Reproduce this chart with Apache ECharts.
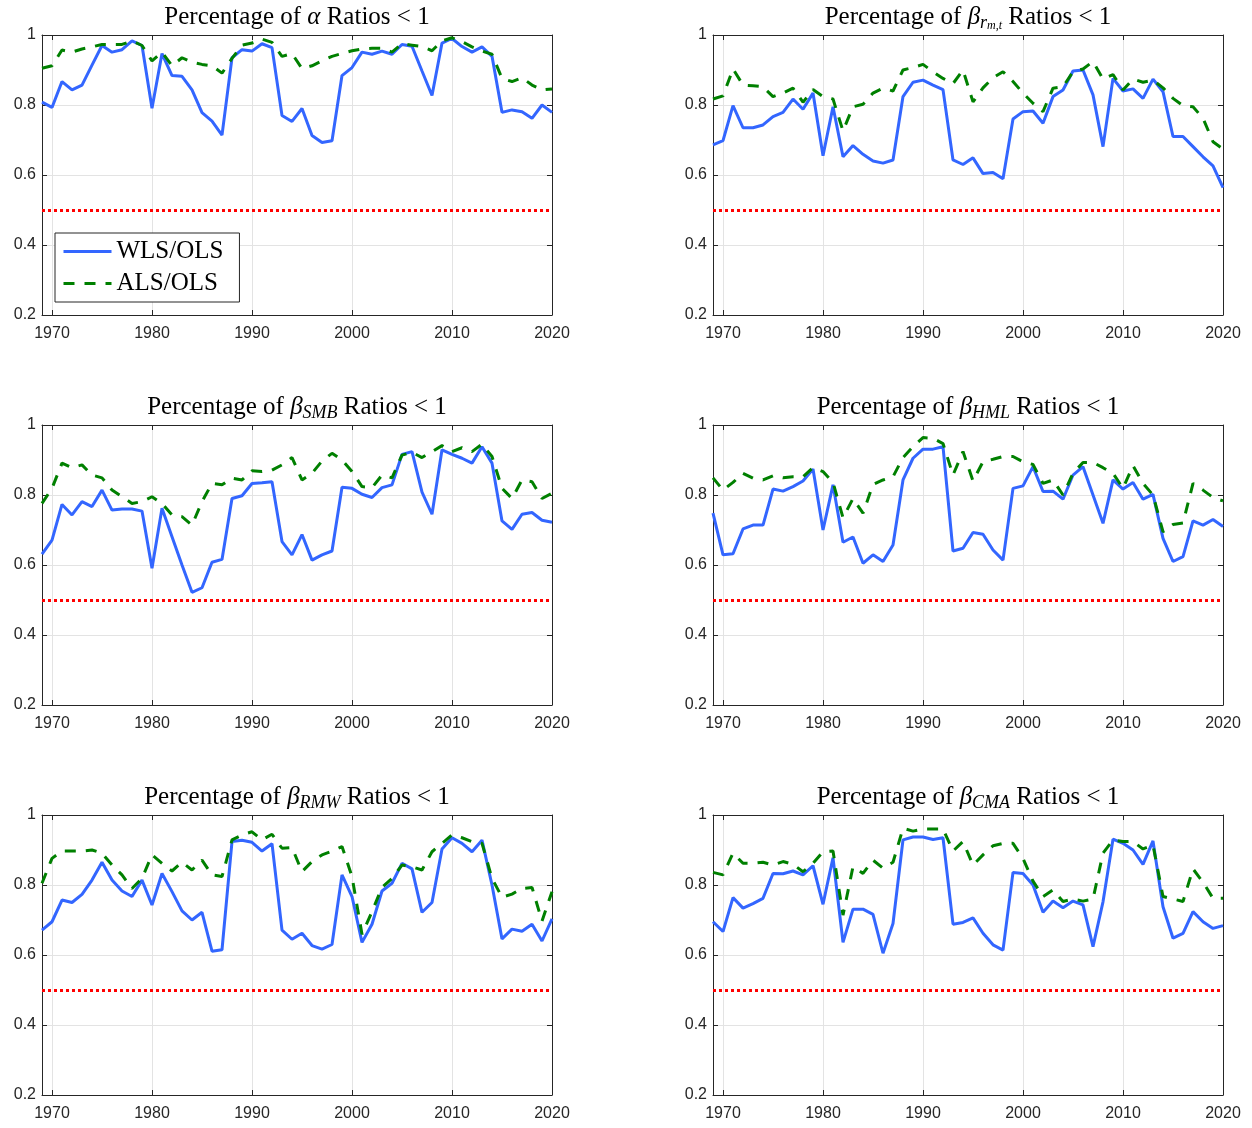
<!DOCTYPE html>
<html><head><meta charset="utf-8">
<script src="https://cdn.jsdelivr.net/npm/echarts@6/dist/echarts.min.js"></script>
<style>html,body{margin:0;padding:0;background:#fff}#c{width:1252px;height:1128px}</style>
</head><body><div id="c"></div>
<script>
const YEARS = [1969,1970,1971,1972,1973,1974,1975,1976,1977,1978,1979,
  1980,1981,1982,1983,1984,1985,1986,1987,1988,1989,
  1990,1991,1992,1993,1994,1995,1996,1997,1998,1999,
  2000,2001,2002,2003,2004,2005,2006,2007,2008,2009,
  2010,2011,2012,2013,2014,2015,2016,2017,2018,2019,2020];
const X_TICKS = [1970,1980,1990,2000,2010,2020];
const THRESHOLD = 0.5;
const LEGEND_NAMES = ['WLS/OLS','ALS/OLS'];

const WLS_ALPHA = [0.808,0.793,0.867,0.843,0.857,0.914,0.970,0.951,0.958,0.983,0.970,
  0.791,0.947,0.884,0.882,0.843,0.778,0.754,0.714,0.935,0.958,
  0.954,0.975,0.964,0.770,0.753,0.790,0.713,0.693,0.698,0.884,
  0.907,0.951,0.945,0.954,0.945,0.973,0.968,0.897,0.827,0.977,
  0.990,0.967,0.951,0.966,0.939,0.779,0.786,0.781,0.762,0.800,0.779];
const ALS_ALPHA = [0.905,0.912,0.957,0.951,0.960,0.966,0.973,0.973,0.973,0.983,0.970,
  0.926,0.951,0.912,0.935,0.922,0.916,0.912,0.891,0.933,0.971,
  0.977,0.988,0.979,0.939,0.947,0.904,0.912,0.926,0.939,0.947,
  0.955,0.960,0.962,0.962,0.951,0.975,0.971,0.967,0.955,0.983,
  0.992,0.981,0.966,0.954,0.945,0.876,0.867,0.878,0.857,0.843,0.846];

const WLS_RM = [0.686,0.698,0.798,0.735,0.735,0.743,0.767,0.779,0.817,0.788,0.834,
  0.655,0.795,0.652,0.684,0.659,0.640,0.634,0.643,0.824,0.865,
  0.871,0.857,0.844,0.643,0.630,0.649,0.604,0.607,0.589,0.760,
  0.781,0.783,0.748,0.824,0.843,0.897,0.900,0.829,0.681,0.876,
  0.840,0.846,0.819,0.874,0.838,0.710,0.710,0.681,0.652,0.626,0.564];
const ALS_RM = [0.817,0.826,0.903,0.857,0.855,0.852,0.824,0.834,0.848,0.808,0.844,
  0.824,0.817,0.726,0.795,0.802,0.834,0.848,0.840,0.900,0.907,
  0.916,0.895,0.876,0.861,0.900,0.809,0.849,0.878,0.895,0.867,
  0.834,0.805,0.781,0.848,0.852,0.895,0.903,0.924,0.874,0.887,
  0.843,0.874,0.865,0.871,0.849,0.819,0.798,0.795,0.762,0.695,0.674];

const WLS_SMB = [0.631,0.671,0.773,0.743,0.781,0.767,0.814,0.757,0.760,0.760,0.754,
  0.591,0.762,0.681,0.600,0.522,0.535,0.608,0.616,0.790,0.798,
  0.833,0.835,0.838,0.667,0.629,0.687,0.614,0.629,0.640,0.822,
  0.819,0.802,0.793,0.821,0.829,0.916,0.924,0.808,0.745,0.929,
  0.916,0.905,0.891,0.938,0.891,0.726,0.702,0.745,0.750,0.728,0.722];
const ALS_SMB = [0.776,0.819,0.891,0.878,0.886,0.857,0.849,0.814,0.795,0.776,0.781,
  0.795,0.776,0.743,0.738,0.714,0.781,0.833,0.829,0.848,0.843,
  0.869,0.867,0.871,0.886,0.907,0.843,0.862,0.897,0.919,0.900,
  0.867,0.824,0.821,0.857,0.849,0.914,0.922,0.907,0.924,0.941,
  0.924,0.935,0.924,0.945,0.910,0.819,0.790,0.843,0.838,0.790,0.805];

const WLS_HML = [0.748,0.629,0.632,0.703,0.714,0.714,0.817,0.811,0.824,0.840,0.874,
  0.700,0.829,0.665,0.680,0.605,0.629,0.610,0.657,0.843,0.905,
  0.931,0.931,0.938,0.640,0.648,0.693,0.688,0.643,0.614,0.819,
  0.826,0.881,0.810,0.811,0.788,0.857,0.881,0.800,0.719,0.843,
  0.817,0.836,0.788,0.802,0.676,0.610,0.624,0.726,0.714,0.730,0.710];
const ALS_HML = [0.849,0.814,0.836,0.862,0.848,0.843,0.855,0.849,0.852,0.852,0.878,
  0.867,0.836,0.735,0.790,0.748,0.830,0.843,0.852,0.907,0.938,
  0.964,0.962,0.947,0.857,0.924,0.840,0.895,0.902,0.910,0.910,
  0.895,0.887,0.833,0.843,0.800,0.862,0.893,0.893,0.878,0.862,
  0.819,0.884,0.833,0.800,0.695,0.716,0.720,0.833,0.814,0.793,0.783];

const WLS_RMW = [0.671,0.695,0.757,0.750,0.773,0.814,0.865,0.814,0.783,0.767,0.814,
  0.743,0.833,0.781,0.726,0.700,0.722,0.611,0.615,0.924,0.928,
  0.922,0.897,0.918,0.671,0.645,0.662,0.627,0.617,0.630,0.829,
  0.767,0.636,0.688,0.783,0.805,0.862,0.846,0.722,0.750,0.903,
  0.935,0.919,0.895,0.928,0.800,0.646,0.674,0.668,0.688,0.640,0.703];
const ALS_RMW = [0.805,0.876,0.897,0.897,0.897,0.900,0.891,0.857,0.829,0.790,0.819,
  0.886,0.862,0.840,0.865,0.843,0.871,0.829,0.824,0.929,0.943,
  0.952,0.929,0.945,0.905,0.907,0.838,0.867,0.886,0.897,0.910,
  0.824,0.659,0.724,0.793,0.819,0.857,0.852,0.843,0.895,0.919,
  0.943,0.935,0.924,0.919,0.819,0.765,0.774,0.790,0.793,0.697,0.781];

const WLS_CMA = [0.695,0.667,0.764,0.734,0.747,0.762,0.833,0.832,0.840,0.829,0.855,
  0.745,0.878,0.636,0.731,0.731,0.716,0.605,0.690,0.929,0.937,
  0.937,0.930,0.935,0.688,0.693,0.706,0.662,0.629,0.614,0.836,
  0.833,0.800,0.722,0.754,0.735,0.754,0.743,0.624,0.752,0.931,
  0.919,0.900,0.859,0.926,0.738,0.648,0.662,0.724,0.695,0.676,0.684];
const ALS_CMA = [0.836,0.829,0.891,0.862,0.862,0.865,0.857,0.867,0.859,0.838,0.862,
  0.895,0.897,0.714,0.852,0.833,0.871,0.848,0.865,0.962,0.954,
  0.960,0.960,0.960,0.897,0.924,0.857,0.886,0.912,0.919,0.919,
  0.876,0.811,0.767,0.786,0.753,0.760,0.754,0.760,0.891,0.929,
  0.924,0.924,0.903,0.914,0.767,0.760,0.753,0.846,0.808,0.762,0.762];

// title pieces: [symbol, subscript, sub-subscript]
const TITLE_PARTS = [
  ['α', '', ''],
  ['β', 'r', 'm,t'],
  ['β', 'SMB', ''],
  ['β', 'HML', ''],
  ['β', 'RMW', ''],
  ['β', 'CMA', '']
];
const PANELS = [
  [WLS_ALPHA, ALS_ALPHA],
  [WLS_RM, ALS_RM],
  [WLS_SMB, ALS_SMB],
  [WLS_HML, ALS_HML],
  [WLS_RMW, ALS_RMW],
  [WLS_CMA, ALS_CMA]
];

const AX = '#262626';
const GRIDC = '#e3e3e3';
const BLUE = '#3366ff';
const GREEN = '#008000';
const RED = '#ff0000';
const SERIF = '"Liberation Serif", "DejaVu Serif", serif';
const SANS = '"Liberation Sans", Arial, sans-serif';

const lefts = [42, 713];
const tops = [35, 425, 815];
const W = 510, H = 280;

const grid = [], xAxis = [], yAxis = [], series = [], graphic = [];
const fmtY = v => String(Math.round(v * 10) / 10);
const fmtX = v => String(Math.round(v));

PANELS.forEach((p, i) => {
  const col = i % 2, row = Math.floor(i / 2);
  grid.push({left: lefts[col], top: tops[row], width: W, height: H, containLabel: false});
  const baseX = {
    type: 'value', gridIndex: i, min: YEARS[0], max: YEARS[YEARS.length - 1],
    axisLine: {show: true, onZero: false, lineStyle: {color: AX, width: 1}},
    axisTick: {show: true, inside: true, length: 5, customValues: X_TICKS, lineStyle: {color: AX}},
  };
  xAxis.push(Object.assign({}, baseX, {
    position: 'bottom',
    axisLabel: {show: true, customValues: X_TICKS, color: AX, fontSize: 16, fontFamily: SANS, margin: 11, formatter: fmtX},
    splitLine: {show: true, lineStyle: {color: GRIDC, width: 1}}
  }));
  xAxis.push(Object.assign({}, baseX, {
    position: 'top', axisLabel: {show: false}, splitLine: {show: false}
  }));
  const baseY = {
    type: 'value', gridIndex: i, min: 0.2, max: 1, interval: 0.2,
    axisLine: {show: true, onZero: false, lineStyle: {color: AX, width: 1}},
    axisTick: {show: true, inside: true, length: 5, lineStyle: {color: AX}}
  };
  yAxis.push(Object.assign({}, baseY, {
    position: 'left',
    axisLabel: {show: true, color: AX, fontSize: 16, fontFamily: SANS, margin: 6, formatter: fmtY},
    splitLine: {show: true, lineStyle: {color: GRIDC, width: 1}}
  }));
  yAxis.push(Object.assign({}, baseY, {
    position: 'right', axisLabel: {show: false}, splitLine: {show: false}
  }));
  series.push({
    name: LEGEND_NAMES[0], type: 'line', xAxisIndex: 2 * i, yAxisIndex: 2 * i,
    data: YEARS.map((y, k) => [y, p[0][k]]), symbol: 'none', silent: true, animation: false,
    lineStyle: {color: BLUE, width: 3}, itemStyle: {color: BLUE}
  });
  series.push({
    name: LEGEND_NAMES[1], type: 'line', xAxisIndex: 2 * i, yAxisIndex: 2 * i,
    data: YEARS.map((y, k) => [y, p[1][k]]), symbol: 'none', silent: true, animation: false,
    lineStyle: {color: GREEN, width: 3, type: [11, 10]}, itemStyle: {color: GREEN},
    markLine: {
      silent: true, symbol: ['none', 'none'], animation: false,
      label: {show: false},
      lineStyle: {color: RED, width: 3, type: 'dotted'},
      emphasis: {disabled: true},
      data: [{yAxis: THRESHOLD}]
    }
  });
  const t = TITLE_PARTS[i];
  let txt = '{n|Percentage of }{g|' + t[0] + '}';
  if (t[1]) txt += '{s|' + t[1] + '}';
  if (t[2]) txt += '{ss|' + t[2] + '}';
  txt += '{n| Ratios < 1}';
  graphic.push({
    type: 'text', x: lefts[col] + W / 2, y: tops[row] - 18, silent: true,
    style: {
      text: txt, align: 'center', verticalAlign: 'middle',
      textAlign: 'center', textVerticalAlign: 'middle',
      rich: {
        n: {fontFamily: SERIF, fontSize: 25, lineHeight: 30, fill: '#000', color: '#000'},
        g: {fontFamily: SERIF, fontSize: 25, fontStyle: 'italic', lineHeight: 30, fill: '#000', color: '#000'},
        s: {fontFamily: SERIF, fontSize: 18, fontStyle: 'italic', lineHeight: 17, verticalAlign: 'bottom', fill: '#000', color: '#000'},
        ss: {fontFamily: SERIF, fontSize: 12, fontStyle: 'italic', lineHeight: 11, verticalAlign: 'bottom', fill: '#000', color: '#000'}
      }
    }
  });
});

const chart = echarts.init(document.getElementById('c'), null, {renderer: 'canvas', width: 1252, height: 1128});
chart.setOption({
  backgroundColor: '#fff',
  animation: false,
  grid, xAxis, yAxis, series, graphic,
  legend: {
    data: LEGEND_NAMES, left: 55, top: 233, orient: 'vertical',
    itemWidth: 48, itemHeight: 22, itemGap: 7, padding: [6, 16, 6, 7],
    borderColor: AX, borderWidth: 1, backgroundColor: '#fff', selectedMode: false,
    itemStyle: {opacity: 0},
    lineStyle: {width: 3},
    textStyle: {fontFamily: SERIF, fontSize: 25, color: '#000'}
  }
});
</script></body></html>
